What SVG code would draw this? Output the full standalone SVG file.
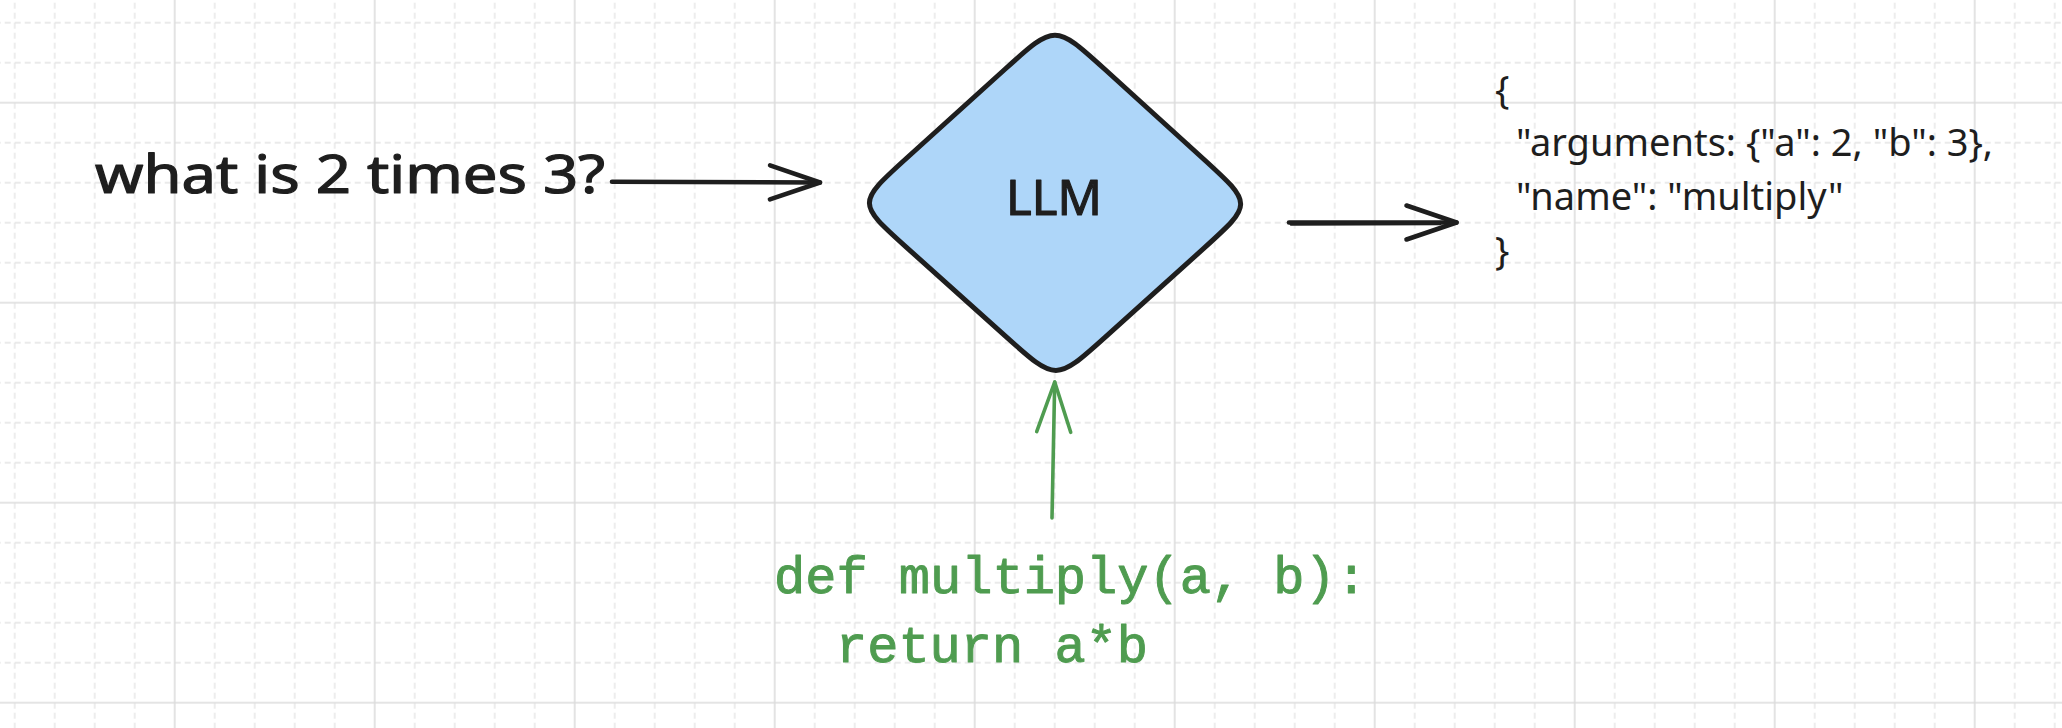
<svg xmlns="http://www.w3.org/2000/svg" width="2062" height="728" viewBox="0 0 2062 728">
  <style>
    .minor { stroke: #e3e3e3; stroke-width: 1.3; stroke-dasharray: 6 4; fill: none; }
    .major { stroke: #dcdcdc; stroke-width: 1.6; fill: none; }
    .hand { font-family: "Noto Sans", "DejaVu Sans", sans-serif; fill: #1e1e1e; stroke: #1e1e1e; stroke-width: 1.2; stroke-linejoin: round; }
    .json { font-family: "Noto Sans", "Open Sans", sans-serif; font-size: 38px; fill: #1e1e1e; }
    .code { font-family: "Liberation Mono", "DejaVu Sans Mono", monospace; font-size: 52px; fill: #4f9c50; stroke: #4f9c50; stroke-width: 1.0; stroke-linejoin: round; }
    .conn-dark { stroke: #1e1e1e; stroke-width: 4.6; fill: none; stroke-linecap: round; stroke-linejoin: round; }
    .conn-green { stroke: #4f9c50; stroke-width: 3.6; fill: none; stroke-linecap: round; stroke-linejoin: round; }
  </style>
  <defs>
    <pattern id="grid" x="74.7" y="2.7" width="200" height="200" patternUnits="userSpaceOnUse">
      <path class="minor" d="M20,0V200M60,0V200M140,0V200M180,0V200"/>
      <path class="minor" d="M0,20H200M0,60H200M0,140H200M0,180H200"/>
      <path class="major" d="M100,0V200M0,100H200"/>
    </pattern>
    <marker id="head-dark" markerUnits="userSpaceOnUse" viewBox="-56 -22 60 44" markerWidth="60" markerHeight="44" refX="0" refY="0" orient="auto" overflow="visible">
      <path d="M-50,-17 L0,0 L-50,17" fill="none" stroke="#1e1e1e" stroke-width="4.6" stroke-linecap="round" stroke-linejoin="round"/>
    </marker>
    <marker id="head-green" markerUnits="userSpaceOnUse" viewBox="-56 -22 60 44" markerWidth="60" markerHeight="44" refX="0" refY="0" orient="auto" overflow="visible">
      <path d="M-50,-17 L0,0 L-50,17" fill="none" stroke="#4f9c50" stroke-width="3.6" stroke-linecap="round" stroke-linejoin="round"/>
    </marker>
  </defs>

  <rect x="0" y="0" width="2062" height="728" fill="#ffffff"/>
  <rect x="0" y="0" width="2062" height="728" fill="url(#grid)"/>

  <g id="connectors">
    <path id="arrow-question-llm" class="conn-dark" d="M612,181.7 L820,182.5" marker-end="url(#head-dark)"/>
    <path id="arrow-llm-json" class="conn-dark" d="M1289,222.5 L1456.5,222.5" marker-end="url(#head-dark)"/>
    <path id="arrow-llm-json-b" class="conn-dark" style="stroke-width:2.5" d="M1291,224.5 L1440,224"/>
    <path id="arrow-code-llm" class="conn-green" d="M1052,518 L1054.7,382" marker-end="url(#head-green)"/>
  </g>

  <g id="node-question">
    <text class="hand" x="95" y="193" font-size="52" textLength="510" lengthAdjust="spacingAndGlyphs">what is 2 times 3?</text>
  </g>

  <g id="node-llm">
    <path d="M1104.5,69 L1203.5,159 C1253,204 1253,204 1203.75,248.4 L1105.25,337.1 C1056,381.5 1056,381.5 1006.25,336.9 L906.75,247.6 C857,203 857,203 906.5,158.25 L1005.5,68.75 C1055,24 1055,24 1104.5,69 Z" fill="#aed6f9" stroke="#1e1e1e" stroke-width="5" stroke-linejoin="round"/>
    <text class="hand" x="1054" y="215" font-size="49" text-anchor="middle">LLM</text>
  </g>

  <g id="node-json">
    <text class="json" x="1495" y="103">{</text>
    <text class="json" x="1516" y="156">"arguments: {"a": 2, "b": 3},</text>
    <text class="json" x="1516" y="210">"name": "multiply"</text>
    <text class="json" x="1495" y="264">}</text>
  </g>

  <g id="node-code">
    <text class="code" x="774" y="593">def multiply(a, b):</text>
    <text class="code" x="836" y="662">return a*b</text>
  </g>
</svg>
